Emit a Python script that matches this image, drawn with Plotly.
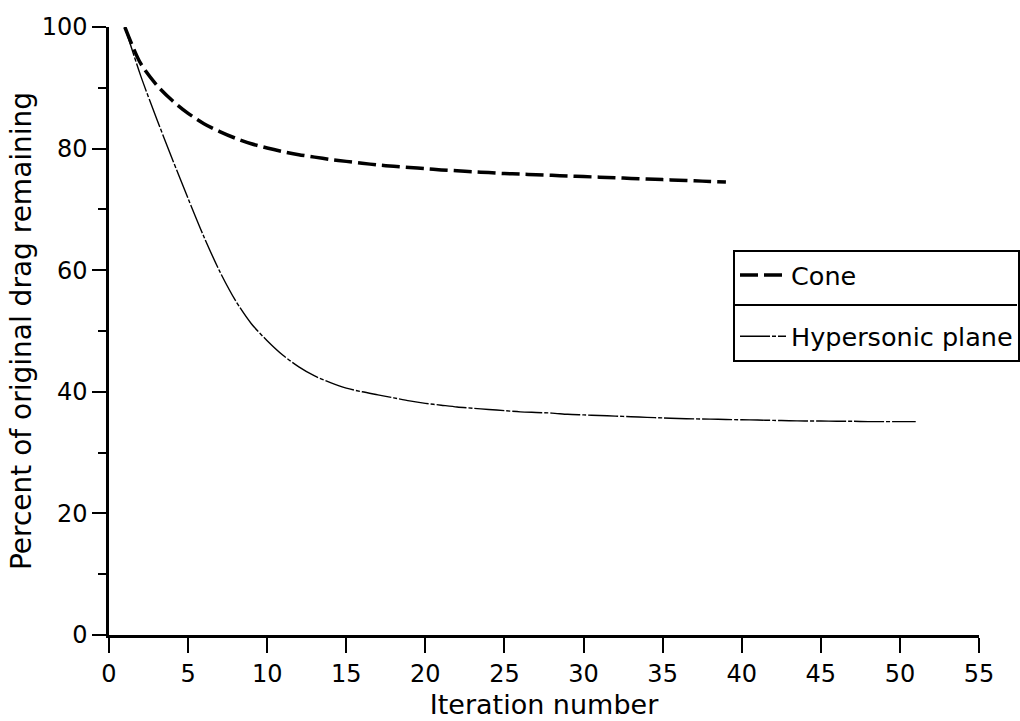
import plotly.graph_objects as go

# Iteration numbers
cone_iter = list(range(1, 40))
plane_iter = list(range(1, 52))

# Percent of original drag remaining
cone_drag = [100, 94, 90.5, 87.9, 85.8, 84.1, 82.8, 81.7, 80.8, 80.1,
             79.5, 79.0, 78.6, 78.2, 77.9, 77.6, 77.3, 77.1, 76.9, 76.7,
             76.5, 76.35, 76.2, 76.05, 75.9, 75.8, 75.7, 75.6, 75.5, 75.4,
             75.3, 75.2, 75.1, 75.0, 74.9, 74.8, 74.7, 74.6, 74.5]
plane_drag = [100, 92, 85, 78.3, 71.8, 65.5, 59.8, 55.0, 51.2, 48.4,
              46.0, 44.1, 42.6, 41.5, 40.6, 40, 39.5, 39, 38.5, 38.1,
              37.8, 37.5, 37.3, 37.1, 36.9, 36.7, 36.6, 36.5, 36.3, 36.2,
              36.1, 36.0, 35.9, 35.8, 35.7, 35.6, 35.55, 35.5, 35.45, 35.4,
              35.35, 35.3, 35.25, 35.2, 35.2, 35.15, 35.15, 35.1, 35.1, 35.1, 35.1]

x_ticks = list(range(0, 56, 5))
y_ticks = list(range(0, 101, 20))

FONT = "DejaVu Sans"

fig = go.Figure()
fig.add_trace(go.Scatter(
    x=cone_iter, y=cone_drag, mode="lines", name="Cone",
    line=dict(color="black", width=3.5, dash="18px,6px", shape="spline", smoothing=0.8),
    legendgroup="a",
))
fig.add_trace(go.Scatter(
    x=plane_iter, y=plane_drag, mode="lines", name="Hypersonic plane",
    line=dict(color="black", width=1.4, dash="30px,2px,4px,2px", shape="spline", smoothing=0.8),
    legendgroup="b",
))

L, R, T, B = 109, 41, 27, 86
W, H = 1020, 721
pw, ph = W - L - R, H - T - B

def px_x(p):
    return (p - L) / pw

def px_y(p):
    return (H - B - p) / ph

fig.update_layout(
    width=W, height=H,
    margin=dict(l=L, r=R, t=T, b=B, autoexpand=False),
    paper_bgcolor="white", plot_bgcolor="white",
    font=dict(family=FONT, color="black", size=24),
    showlegend=True,
    legend=dict(
        x=px_x(733), y=px_y(250), xanchor="left", yanchor="top",
        bordercolor="black", borderwidth=2, bgcolor="rgba(0,0,0,0)",
        font=dict(family=FONT, size=25.5, color="black"),
        itemwidth=46, tracegroupgap=25, traceorder="grouped",
    ),
    xaxis=dict(
        range=[0, 55], tickvals=x_ticks, ticks="outside", ticklen=15,
        tickwidth=2, tickcolor="black", showline=True, linewidth=2.5,
        linecolor="black", showgrid=False, zeroline=False,
        tickfont=dict(family=FONT, size=24),
        title=dict(text="Iteration number", font=dict(family=FONT, size=27), standoff=9),
    ),
    yaxis=dict(
        range=[0, 100], tickvals=y_ticks, ticks="outside", ticklen=14,
        tickwidth=2, tickcolor="black", showline=True, linewidth=2.5,
        linecolor="black", showgrid=False, zeroline=False,
        tickfont=dict(family=FONT, size=24),
        minor=dict(dtick=10, ticks="outside", ticklen=8, tickwidth=2, tickcolor="black"),
        title=dict(text="Percent of original drag remaining", font=dict(family=FONT, size=28), standoff=2),
    ),
    shapes=[dict(type="line", xref="paper", yref="paper", layer="above",
                 x0=px_x(733), x1=px_x(1017), y0=px_y(305), y1=px_y(305),
                 line=dict(color="black", width=2))],
)

fig.write_html("out.html")
